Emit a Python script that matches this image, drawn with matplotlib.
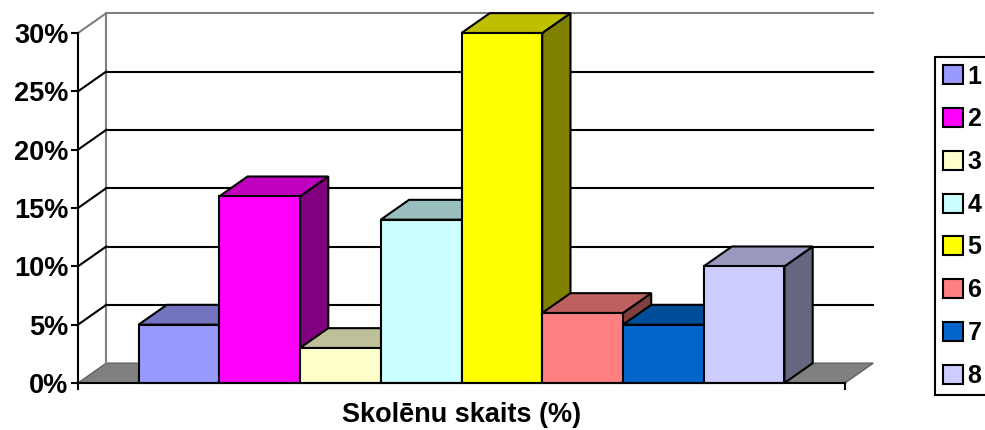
import numpy as np
import matplotlib.pyplot as plt
from matplotlib.patches import Polygon, Patch
from matplotlib.colors import to_rgb

plt.rcParams['font.family'] = ['Liberation Sans', 'DejaVu Sans']
plt.rcParams['font.weight'] = 'bold'

# data
groups = ["1", "2", "3", "4", "5", "6", "7", "8"]
values = [5, 16, 3, 14, 30, 6, 5, 10]
colors = ["#9999FF", "#FF00FF", "#FFFFCC", "#CCFFFF",
          "#FFFF00", "#FF8080", "#0066CC", "#CCCCFF"]
y_ticks = [0, 5, 10, 15, 20, 25, 30]
xlabel = "Skolēnu skaits (%)"

# fake 3d depth (data units)
dx = 0.35
dy = 1.7
x0, x1 = -0.75, len(values) + 0.75


def shade(c, f):
    r, g, b = to_rgb(c)
    return (r * f, g * f, b * f)


fig = plt.figure(figsize=(9.85, 4.30), dpi=100)
ax = fig.add_axes([78 / 985, 47 / 430, 767 / 985, 350 / 430])
ax.set_xlim(x0, x1)
ax.set_ylim(0, 30)

# floor
floor = Polygon([(x0, 0), (x1, 0), (x1 + dx, dy), (x0 + dx, dy)],
                fc="#808080", ec="#606060", lw=1, clip_on=False, zorder=1)
ax.add_patch(floor)

# walls / gridlines
ax.plot([x0 + dx, x0 + dx], [dy, 30 + dy], color="#808080", lw=1.5,
        clip_on=False, zorder=1)
for t in y_ticks[1:]:
    col = "#808080" if t == 30 else "black"
    ax.plot([x0, x0 + dx], [t, t + dy], color=col, lw=1.5, clip_on=False, zorder=1)
    ax.plot([x0 + dx, x1 + dx], [t + dy, t + dy], color=col, lw=1.5,
            clip_on=False, zorder=1)

# bars, left to right so next bar hides the side face
for i, (v, c) in enumerate(zip(values, colors)):
    z = 3 + i
    side = Polygon([(i + 1, 0), (i + 1 + dx, dy), (i + 1 + dx, v + dy), (i + 1, v)],
                   fc=shade(c, 0.5), ec="black", lw=1.5, clip_on=False, zorder=z)
    top = Polygon([(i, v), (i + 1, v), (i + 1 + dx, v + dy), (i + dx, v + dy)],
                  fc=shade(c, 0.75), ec="black", lw=1.5, clip_on=False, zorder=z)
    front = Polygon([(i, 0), (i + 1, 0), (i + 1, v), (i, v)],
                    fc=c, ec="black", lw=1.5, clip_on=False, zorder=z)
    ax.add_patch(side)
    ax.add_patch(top)
    ax.add_patch(front)

for s in ["top", "right"]:
    ax.spines[s].set_visible(False)
for s in ["left", "bottom"]:
    ax.spines[s].set_linewidth(1.5)
    ax.spines[s].set_zorder(20)

ax.set_yticks(y_ticks)
ax.set_yticklabels([f"{t}%" for t in y_ticks], fontsize=19.5, fontweight="bold")
ax.set_xticks([x0, x1])
ax.set_xticklabels(["", ""])
ax.tick_params(length=5, width=1.5, pad=2)
ax.set_xlabel(xlabel, fontsize=19.5, fontweight="bold", labelpad=7)

handles = [Patch(fc=c, ec="black", lw=1.5) for c in colors]
leg = fig.legend(handles, groups, loc="upper left",
                 bbox_to_anchor=(935 / 985, 1 - 57 / 430),
                 prop={"size": 18, "weight": "bold"},
                 frameon=True, fancybox=False, framealpha=1,
                 edgecolor="black", labelspacing=0.75,
                 handlelength=0.8, handleheight=0.8, handletextpad=0.2,
                 borderpad=0.3, borderaxespad=0)
leg.get_frame().set_linewidth(1.5)

fig.savefig("out.png", dpi=100)
